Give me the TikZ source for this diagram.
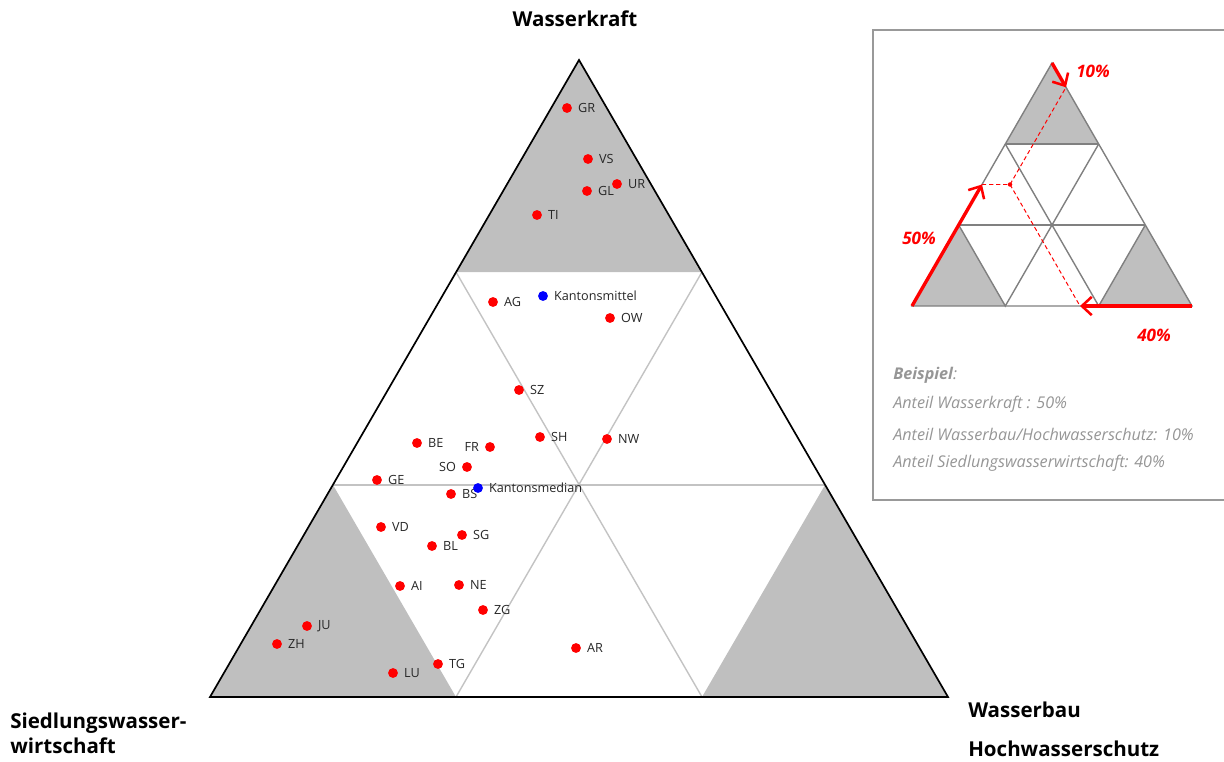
\documentclass[tikz,border=0pt]{standalone}
\usepackage{fontspec}
\setmainfont{Open Sans}
\usetikzlibrary{arrows.meta}
\definecolor{cornergray}{RGB}{191,191,191}
\definecolor{gridgray}{RGB}{195,195,195}
\definecolor{insetgray}{RGB}{128,128,128}
\definecolor{notegray}{RGB}{150,150,150}
\tikzstyle{kanton} = [circle, fill=red, inner sep=0pt, minimum size=7pt]
\tikzstyle{mittel} = [kanton, fill=blue]
\tikzstyle{klabel} = [font=\fontsize{9}{10}\selectfont, text=black!85, inner sep=0pt]
\tikzstyle{axis} = [font=\bfseries\fontsize{14.6}{17.6}\selectfont, inner sep=0pt, align=left]
\tikzstyle{grid} = [draw=gridgray, line width=1pt]
\tikzstyle{igrid} = [draw=insetgray, line width=1pt]
\tikzstyle{share} = [draw=red, line width=2.4pt, -{Straight Barb[length=7pt, width=13pt, line width=1.8pt]}]
\tikzstyle{guide} = [draw=red, line width=0.7pt, dash pattern=on 3pt off 2pt]
\tikzstyle{pct} = [text=red, font=\bfseries\itshape\fontsize{12.2}{14}\selectfont, inner sep=0pt]
\tikzstyle{note} = [text=notegray, font=\itshape\fontsize{11.5}{13}\selectfont, anchor=west, inner sep=0pt]
\newcommand{\kanton}[4]{
\node (#1) [kanton] at (#2,#3) {};
\node (#1t) [klabel, anchor=west] at ([xshift=4pt]#1.east) {#4};}
\newcommand{\kantonl}[4]{
\node (#1) [kanton] at (#2,#3) {};
\node (#1t) [klabel, anchor=east] at ([xshift=-4pt]#1.west) {#4};}

\begin{document}
\begin{tikzpicture}[x=0.025cm, y=-0.025cm]
		\useasboundingbox (0,0) rectangle (1224,762);

		% Main triangle corners and grid points
		\coordinate (top) at (579,60);
		\coordinate (bl) at (210,697);
		\coordinate (br) at (948,697);
		\coordinate (l1) at (456,272);
		\coordinate (r1) at (702,272);
		\coordinate (l2) at (333,485);
		\coordinate (r2) at (825,485);
		\coordinate (b1) at (456,697);
		\coordinate (b2) at (702,697);

		% Draw gray corner triangles
		\fill [cornergray] (top) -- (l1) -- (r1) -- cycle;
		\fill [cornergray] (bl) -- (b1) -- (l2) -- cycle;
		\fill [cornergray] (b2) -- (br) -- (r2) -- cycle;

		% Draw grid lines
		\path [grid] (l2) -- (r2);
		\path [grid] (l1) -- (b2);
		\path [grid] (r1) -- (b1);
		\draw [line width=1.2pt] (top) -- (bl) -- (br) -- cycle;

		% Draw axis labels
		\node (wk) [axis, anchor=base] at (575,27) {Wasserkraft};
		\node (sw) [axis, anchor=base west] at (10,728) {Siedlungswasser-};
		\node (sw2) [axis, anchor=base west] at (10,753) {wirtschaft};
		\node (wb) [axis, anchor=base west] at (968,717) {Wasserbau};
		\node (hw) [axis, anchor=base west] at (968,756) {Hochwasserschutz};

		% Draw cantons
		\kanton{GR}{567}{108}{GR}
		\kanton{VS}{588}{159}{VS}
		\kanton{UR}{617}{184}{UR}
		\kanton{GL}{587}{191}{GL}
		\kanton{TI}{537}{215}{TI}
		\kanton{AG}{493}{302}{AG}
		\kanton{OW}{610}{318}{OW}
		\kanton{SZ}{519}{390}{SZ}
		\kanton{SH}{540}{437}{SH}
		\kanton{NW}{607}{439}{NW}
		\kanton{BE}{417}{443}{BE}
		\kantonl{FR}{490}{447}{FR}
		\kantonl{SO}{467}{467}{SO}
		\kanton{GE}{377}{480}{GE}
		\kanton{BS}{451}{494}{BS}
		\kanton{VD}{381}{527}{VD}
		\kanton{SG}{462}{535}{SG}
		\kanton{BL}{432}{546}{BL}
		\kanton{AI}{400}{586}{AI}
		\kanton{NE}{459}{585}{NE}
		\kanton{ZG}{483}{610}{ZG}
		\kanton{JU}{307}{626}{JU}
		\kanton{ZH}{277}{644}{ZH}
		\kanton{TG}{438}{664}{TG}
		\kanton{LU}{393}{673}{LU}
		\kanton{AR}{576}{648}{AR}
		\node (mw) [mittel] at (543,296) {};
		\node (mwt) [klabel, anchor=west] at ([xshift=4pt]mw.east) {Kantonsmittel};
		\node (md) [mittel] at (478,488) {};
		\node (mdt) [klabel, anchor=west] at ([xshift=4pt]md.east) {Kantonsmedian};

		% Draw example box
		\draw [draw=black!40, line width=0.8pt] (1226,30) -- (873,30) -- (873,500) -- (1226,500);

		% Example triangle corners and grid points
		\coordinate (itop) at (1052,63);
		\coordinate (ibl) at (912,306);
		\coordinate (ibr) at (1192,306);
		\coordinate (il1) at (1005.3,144);
		\coordinate (ir1) at (1098.7,144);
		\coordinate (il2) at (958.7,225);
		\coordinate (ir2) at (1145.3,225);
		\coordinate (ib1) at (1005.3,306);
		\coordinate (ib2) at (1098.7,306);
		\fill [cornergray] (itop) -- (il1) -- (ir1) -- cycle;
		\fill [cornergray] (ibl) -- (ib1) -- (il2) -- cycle;
		\fill [cornergray] (ib2) -- (ibr) -- (ir2) -- cycle;
		\path [igrid] (il1) -- (ir1);
		\path [igrid] (il2) -- (ir2);
		\path [igrid] (il1) -- (ib2) -- (ir2);
		\path [igrid] (ir1) -- (ib1) -- (il2);
		\path [igrid] (itop) -- (ibl) -- (ibr) -- cycle;

		% Draw example shares
		\coordinate (p) at (1010,184.5);
		\coordinate (s50) at (982,184.5);
		\coordinate (s10) at (1066,87.3);
		\coordinate (s40) at (1080,306);
		\path [guide] (s50) -- (p) -- (s10);
		\path [guide] (p) -- (s40);
		\fill [red] (p) circle (1.6pt);
		\path [share] (ibl) -- (s50);
		\path [share] (itop) -- (s10);
		\path [share] (ibr) -- (s40);
		\node (t10) [pct, anchor=west] at (1076,71) {10\%};
		\node (t50) [pct, anchor=west] at (902,238) {50\%};
		\node (t40) [pct, anchor=west] at (1137,335) {40\%};

		% Draw example text
		\node (n0) [note] at (893,375) {\textbf{Beispiel}:};
		\node (n1) [note] at (893,404) {Anteil Wasserkraft : 50\%};
		\node (n2) [note] at (893,434) {Anteil Wasserbau/Hochwasserschutz: 10\%};
		\node (n3) [note] at (893,463) {Anteil Siedlungswasserwirtschaft: 40\%};

	\end{tikzpicture}
\end{document}
